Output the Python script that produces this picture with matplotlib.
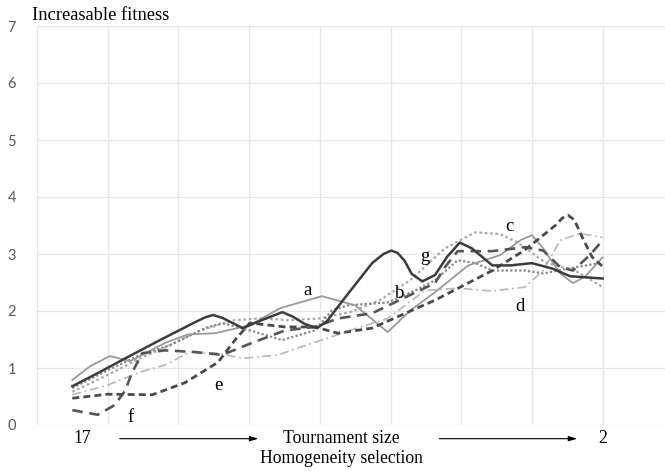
import matplotlib
matplotlib.use("Agg")
import matplotlib.pyplot as plt

# ---- data (x in category-grid units, y = fitness) ----
g_x = [0.5, 0.89, 1.25, 1.74, 2.23, 2.38, 2.49, 2.62, 2.91, 3.2, 3.47, 3.62, 3.79, 3.96, 4.1, 4.36, 4.74, 4.9, 5.01, 5.1, 5.2, 5.3, 5.45, 5.63, 5.8, 5.98, 6.15, 6.44, 6.7, 7.0, 7.3, 7.54, 8.0]
g_y = [0.68, 0.93, 1.17, 1.49, 1.8, 1.89, 1.93, 1.88, 1.7, 1.85, 1.98, 1.9, 1.77, 1.7, 1.82, 2.24, 2.84, 3.0, 3.06, 3.02, 2.88, 2.65, 2.52, 2.63, 2.95, 3.2, 3.1, 2.8, 2.8, 2.84, 2.74, 2.61, 2.57]

a_x = [0.5, 0.75, 1.03, 1.32, 1.81, 2.14, 2.52, 3.01, 3.44, 4.03, 4.5, 4.96, 5.28, 5.63, 6.1, 6.55, 6.85, 7.0, 7.16, 7.4, 7.58, 7.75, 8.0]
a_y = [0.79, 1.03, 1.21, 1.12, 1.44, 1.59, 1.61, 1.75, 2.05, 2.26, 2.1, 1.63, 2.01, 2.33, 2.8, 2.98, 3.25, 3.33, 3.1, 2.66, 2.49, 2.6, 2.94]

e_x = [0.5, 1.0, 1.63, 2.09, 2.56, 2.8, 3.01, 3.51, 3.93, 4.26, 4.74, 5.21, 5.63, 6.44, 6.9, 7.33, 7.43, 7.51, 7.6, 7.71, 7.85, 8.0]
e_y = [0.47, 0.54, 0.53, 0.74, 1.1, 1.49, 1.79, 1.72, 1.72, 1.61, 1.7, 1.96, 2.19, 2.71, 3.07, 3.5, 3.63, 3.68, 3.6, 3.3, 2.95, 2.78]

f_x = [0.5, 0.86, 1.1, 1.25, 1.34, 1.49, 1.81, 2.23, 2.62, 3.04, 3.51, 3.93, 4.26, 4.74, 5.21, 5.63, 5.77, 5.95, 6.44, 6.9, 7.16, 7.4, 7.58, 7.82, 8.0]
f_y = [0.26, 0.18, 0.35, 0.61, 0.91, 1.26, 1.31, 1.28, 1.23, 1.44, 1.66, 1.72, 1.87, 1.96, 2.24, 2.49, 2.77, 3.05, 3.05, 3.12, 3.06, 2.77, 2.71, 2.98, 3.24]

c_x = [0.5, 1.0, 1.46, 1.88, 2.31, 2.8, 3.15, 3.58, 4.0, 4.43, 4.85, 5.28, 5.77, 6.2, 6.55, 6.8, 7.19, 7.61, 8.0]
c_y = [0.58, 0.88, 1.17, 1.4, 1.66, 1.84, 1.87, 1.84, 1.87, 1.98, 2.19, 2.54, 3.1, 3.38, 3.35, 3.2, 2.85, 2.71, 2.42]

d_x = [0.5, 1.0, 1.46, 1.81, 2.16, 2.56, 2.91, 3.41, 3.93, 4.43, 4.96, 5.49, 5.95, 6.44, 6.9, 7.16, 7.4, 7.68, 8.0]
d_y = [0.53, 0.7, 0.93, 1.05, 1.28, 1.26, 1.17, 1.23, 1.45, 1.66, 1.87, 2.36, 2.4, 2.35, 2.42, 2.71, 3.24, 3.36, 3.29]

b_x = [0.5, 1.0, 1.46, 1.88, 2.38, 2.62, 3.01, 3.47, 3.93, 4.17, 4.4, 4.96, 5.35, 5.63, 5.95, 6.2, 6.44, 6.9, 7.16, 7.54, 8.0]
b_y = [0.65, 0.96, 1.23, 1.4, 1.7, 1.79, 1.66, 1.49, 1.66, 2.01, 2.1, 2.15, 2.36, 2.54, 2.89, 2.84, 2.71, 2.71, 2.66, 2.75, 2.85]

y_ticks = [0, 1, 2, 3, 4, 5, 6, 7]
series_labels = ["a", "b", "c", "d", "e", "f", "g"]
label_pos_x = [3.82, 5.13, 6.68, 6.83, 2.57, 1.33, 5.49]
label_pos_y = [2.36, 2.31, 3.48, 2.08, 0.70, 0.14, 2.95]

fig = plt.figure(figsize=(6.65, 4.71), dpi=100)
ax = fig.add_axes([37 / 665, 1 - 425 / 471, 1 - 37 / 665, (425 - 26) / 471])
ax.set_xlim(0, (665 - 37) / 70.7)
ax.set_ylim(0, 7)

for s in ax.spines.values():
    s.set_visible(False)
for k in range(0, 10):
    ax.axvline(k, color="#e6e6e6", lw=0.9, zorder=0)
for v in y_ticks:
    ax.axhline(v, color="#e6e6e6", lw=0.9, zorder=0)

ax.set_xticks([])
ax.set_yticks(y_ticks)
ax.set_yticklabels([str(v) for v in y_ticks], fontfamily="Lato", fontsize=10.5, color="#595959")
ax.tick_params(axis="y", length=0, pad=15)

ax.plot(d_x, d_y, color="#bbbbbb", lw=1.3, linestyle=(0, (5, 2, 1, 2)))
ax.plot(c_x, c_y, color="#aaaaaa", lw=1.6, linestyle=(0, (1.2, 1.2)))
ax.plot(b_x, b_y, color="#888888", lw=1.6, linestyle=(0, (1, 1)))
ax.plot(a_x, a_y, color="#9a9a9a", lw=1.3, linestyle="-")
ax.plot(f_x, f_y, color="#555555", lw=1.9, linestyle=(0, (4, 2.5)))
ax.plot(e_x, e_y, color="#4a4a4a", lw=2.0, linestyle=(0, (2.5, 1.5)))
ax.plot(g_x, g_y, color="#3c3c3c", lw=1.8, linestyle="-")

serif = "Liberation Serif"
for lab, lx, ly in zip(series_labels, label_pos_x, label_pos_y):
    ax.text(lx, ly, lab, fontfamily=serif, fontsize=13.5, ha="center", va="center", color="black")

fig.text(32 / 665, 1 - 16 / 471, "Increasable fitness", fontfamily=serif, fontsize=13.3, ha="left", va="center")

yb = -0.24
fs = 12.7
ax.text(0.64, yb, "17", fontfamily=serif, fontsize=fs, ha="center", va="center", clip_on=False)
ax.text(4.3, yb, "Tournament size", fontfamily=serif, fontsize=fs, ha="center", va="center", clip_on=False)
ax.text(8.0, yb, "2", fontfamily=serif, fontsize=fs, ha="center", va="center", clip_on=False)
ax.text(4.3, -0.58, "Homogeneity selection", fontfamily=serif, fontsize=fs, ha="center", va="center", clip_on=False)
arrow_kw = dict(arrowstyle="-|>,head_length=0.5,head_width=0.15", color="black", lw=0.8, shrinkA=0, shrinkB=0)
ax.annotate("", xy=(3.13, yb), xytext=(1.17, yb), arrowprops=arrow_kw, annotation_clip=False)
ax.annotate("", xy=(7.64, yb), xytext=(5.69, yb), arrowprops=arrow_kw, annotation_clip=False)

fig.savefig("out.png", dpi=100)
